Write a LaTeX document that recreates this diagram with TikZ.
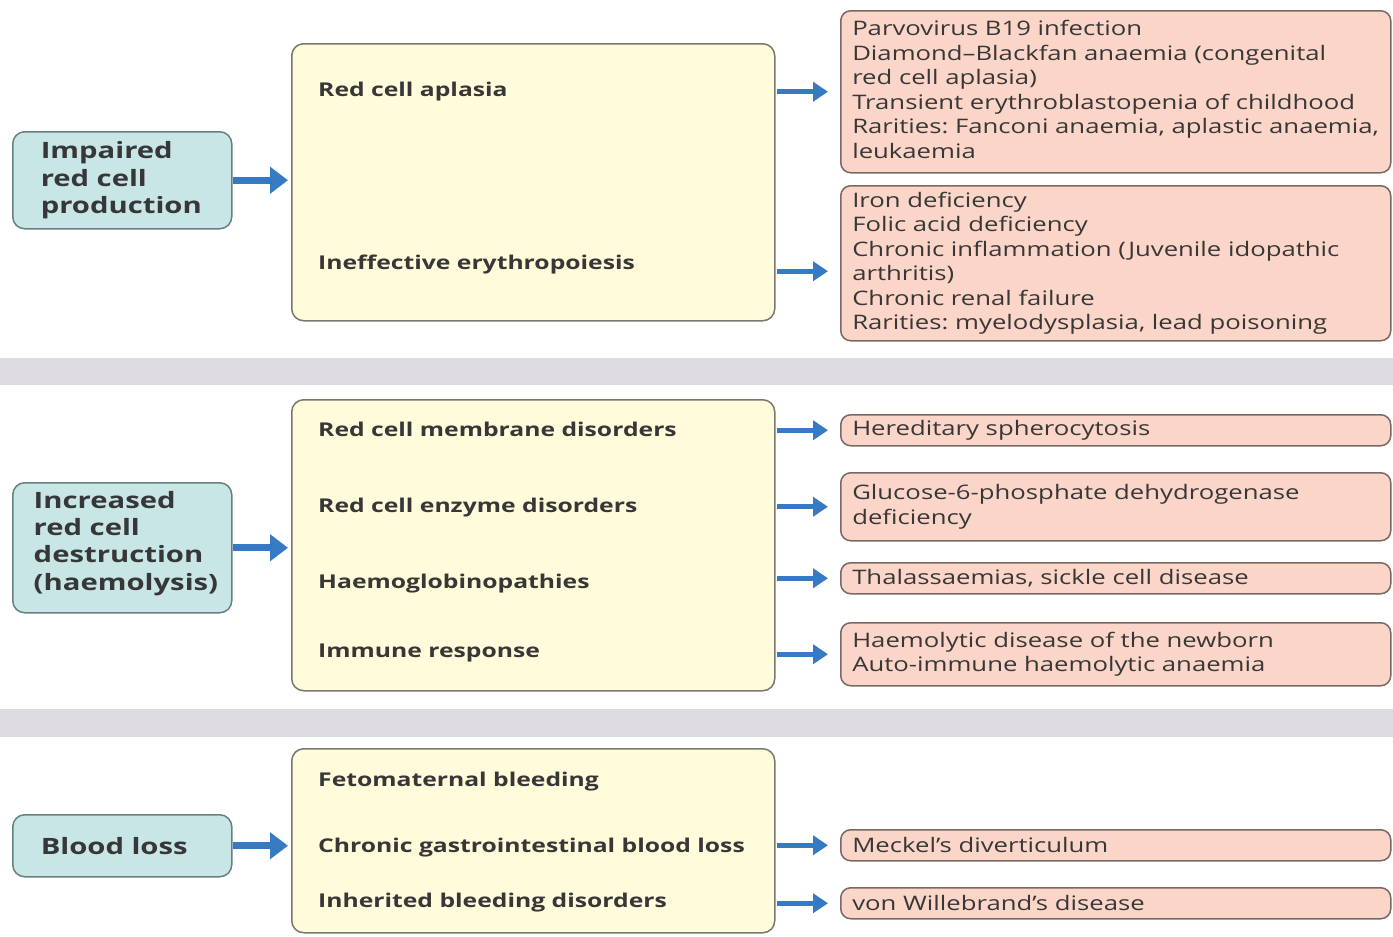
\documentclass[tikz,border=0pt]{standalone}
\usepackage{fontspec}
\setmainfont{Open Sans}[FakeStretch=1.3]
\newfontfamily\rfont{Open Sans}[FakeStretch=1.285,Ligatures=TeX]
\newcommand\nohyphs{\hyphenpenalty=10000\relax}
\usetikzlibrary{arrows.meta}
\definecolor{band}{RGB}{222,220,226}
\definecolor{tealf}{RGB}{200,230,230}
\definecolor{tealb}{RGB}{105,128,128}
\definecolor{yelf}{RGB}{255,251,219}
\definecolor{yelb}{RGB}{120,120,110}
\definecolor{salf}{RGB}{251,214,200}
\definecolor{salb}{RGB}{120,105,100}
\definecolor{arrblue}{RGB}{55,122,196}
\definecolor{txtc}{RGB}{55,55,55}
\tikzset{
  leftbox/.style={draw=tealb, fill=tealf, line width=1.5pt, rounded corners=12pt, anchor=north west,
    minimum width=219pt, text width=163pt, inner xsep=28pt, align=left, text=txtc,
    font=\fontsize{22.5}{27.3}\selectfont\bfseries\nohyphs},
  midbox/.style={draw=yelb, fill=yelf, line width=1.5pt, rounded corners=12pt, anchor=north west,
    minimum width=483pt, inner sep=0pt},
  midtxt/.style={anchor=west, inner sep=0pt, text=txtc, font=\fontsize{19}{24}\selectfont\bfseries},
  rbox/.style={draw=salb, fill=salf, line width=1.5pt, rounded corners=10pt, anchor=north west,
    minimum width=550pt, text width=527pt, inner xsep=11.5pt, align=left, text=txtc,
    font=\rfont\fontsize{20}{24.5}\selectfont\frenchspacing\nohyphs},
  bigarr/.style={draw=arrblue, line width=7pt, -{Triangle[length=18pt,width=26pt]}},
  smallarr/.style={draw=arrblue, line width=5pt, -{Triangle[length=15pt,width=19pt]}},
}
\begin{document}
\begin{tikzpicture}[x=1pt,y=-1pt]
\useasboundingbox (0,0) rectangle (1393,937);
\fill[white] (0,0) rectangle (1393,937);
% bands
\fill[band] (0,358) rectangle (1393,385);
\fill[band] (0,709) rectangle (1393,737);
% left boxes
\node[leftbox, minimum height=97pt] (L1) at (12,131) {Impaired\\red cell\\production};
\node[leftbox, minimum height=130pt, inner xsep=21pt, text width=177pt] (L2) at (12,482) {Increased\\red cell\\destruction\\(haemolysis)\par\vspace*{9pt}};
\node[leftbox, minimum height=62pt] (L3) at (12,814) {Blood loss};
% middle boxes
\node[midbox, minimum height=277pt] (M1) at (291,43) {};
\node[midbox, minimum height=291pt] (M2) at (291,399) {};
\node[midbox, minimum height=184pt] (M3) at (291,748) {};
% middle texts
\node[midtxt] (t1) at (318,92) {Red cell aplasia};
\node[midtxt] (t2) at (318,265) {Ineffective erythropoiesis};
\node[midtxt] (t3) at (318,429) {Red cell membrane disorders};
\node[midtxt] (t4) at (318,508) {Red cell enzyme disorders};
\node[midtxt] (t5) at (318,584) {Haemoglobinopathies};
\node[midtxt] (t6) at (318,653) {Immune response};
\node[midtxt] (t7) at (318,782) {Fetomaternal bleeding};
\node[midtxt] (t8) at (318,848) {Chronic gastrointestinal blood loss};
\node[midtxt] (t9) at (318,903) {Inherited bleeding disorders};
% right boxes
\node[rbox, minimum height=162pt] (R1) at (840,10) {Parvovirus B19 infection\\Diamond–Blackfan anaemia (congenital\\red cell aplasia)\\Transient erythroblastopenia of childhood\\Rarities: Fanconi anaemia, aplastic anaemia,\\leukaemia\par\vspace*{5pt}};
\node[rbox, minimum height=155pt] (R2) at (840,185) {Iron deficiency\\Folic acid deficiency\\Chronic inflammation (Juvenile idopathic\\arthritis)\\Chronic renal failure\\Rarities: myelodysplasia, lead poisoning};
\node[rbox, minimum height=31pt] (R3) at (840,414) {Hereditary spherocytosis};
\node[rbox, minimum height=68pt] (R4) at (840,472) {Glucose-6-phosphate dehydrogenase\\deficiency};
\node[rbox, minimum height=31pt] (R5) at (840,562) {Thalassaemias, sickle cell disease};
\node[rbox, minimum height=63pt] (R6) at (840,622) {Haemolytic disease of the newborn\\Auto-immune haemolytic anaemia};
\node[rbox, minimum height=31pt] (R7) at (840,829) {Meckel’s diverticulum};
\node[rbox, minimum height=31pt] (R8) at (840,887) {von Willebrand’s disease};
% left arrows
\draw[bigarr] (L1.east) -- ([xshift=-3pt]M1.west |- L1.east);
\draw[bigarr] (L2.east) -- ([xshift=-3pt]M2.west |- L2.east);
\draw[bigarr] (L3.east) -- ([xshift=-3pt]M3.west |- L3.east);
% right arrows
\draw[smallarr] ([xshift=1pt]M1.east |- R1.west) -- ([xshift=-12pt]R1.west);
\draw[smallarr] ([xshift=1pt,yshift=-8pt]M1.east |- R2.west) -- ([xshift=-12pt,yshift=-8pt]R2.west);
\draw[smallarr] ([xshift=1pt]M2.east |- R3.west) -- ([xshift=-12pt]R3.west);
\draw[smallarr] ([xshift=1pt]M2.east |- R4.west) -- ([xshift=-12pt]R4.west);
\draw[smallarr] ([xshift=1pt]M2.east |- R5.west) -- ([xshift=-12pt]R5.west);
\draw[smallarr] ([xshift=1pt]M2.east |- R6.west) -- ([xshift=-12pt]R6.west);
\draw[smallarr] ([xshift=1pt]M3.east |- R7.west) -- ([xshift=-12pt]R7.west);
\draw[smallarr] ([xshift=1pt]M3.east |- R8.west) -- ([xshift=-12pt]R8.west);
\end{tikzpicture}
\end{document}
